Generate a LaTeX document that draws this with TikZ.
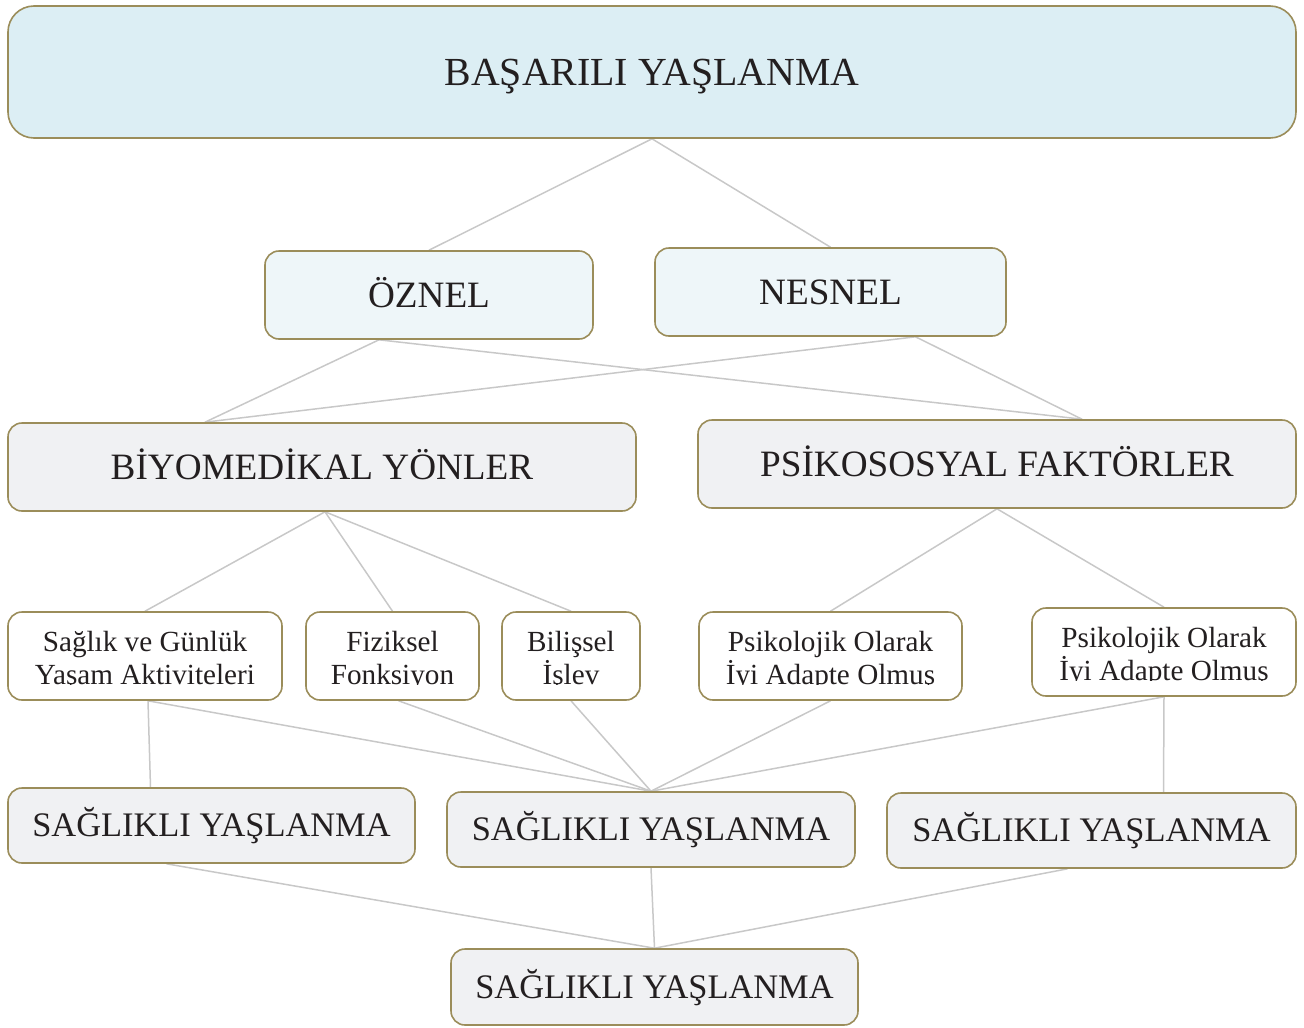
\documentclass[tikz,border=0pt]{standalone}
\usepackage{fontspec}
\setmainfont{Liberation Serif}
\usetikzlibrary{backgrounds}
\definecolor{bord}{RGB}{155,141,90}
\definecolor{txt}{RGB}{35,31,32}
\definecolor{topfill}{RGB}{220,238,244}
\definecolor{bluefill}{RGB}{238,246,249}
\definecolor{grayfill}{RGB}{240,241,243}
\definecolor{conn}{RGB}{200,200,200}
\begin{document}
\begin{tikzpicture}[x=1pt,y=-1pt,
  box/.style={draw=bord, line width=1.6pt, rounded corners=14pt, inner sep=0pt, text=txt},
  titlebox/.style={box, fill=topfill, rounded corners=26pt, font=\fontsize{39.8}{47}\selectfont, text height=26.3pt, text depth=0pt},
  midbox/.style={box, font=\fontsize{37.2}{44}\selectfont, text height=24.6pt, text depth=0pt, minimum height=88pt},
  healthbox/.style={box, fill=grayfill, font=\fontsize{34.4}{41}\selectfont, text height=22.8pt, text depth=0pt, minimum height=75pt},
  smallbox/.style={box, fill=white, minimum height=88pt},
  stext/.style={text=txt, inner sep=0pt, anchor=base, font=\fontsize{29.2}{33}\selectfont},
  link/.style={draw=conn, line width=1.5pt}]
\useasboundingbox (0,0) rectangle (1304,1028);

\node[titlebox, minimum width=1288pt, minimum height=132pt] (top) at (652,72) {BAŞARILI YAŞLANMA};

\node[midbox, fill=bluefill, minimum width=328pt] (oz) at (429,295) {ÖZNEL};
\node[midbox, fill=bluefill, minimum width=351pt] (ns) at (830.5,292) {NESNEL};

\node[midbox, fill=grayfill, minimum width=628pt] (bio) at (322,467) {BİYOMEDİKAL YÖNLER};
\node[midbox, fill=grayfill, minimum width=598pt] (psi) at (997,464) {PSİKOSOSYAL FAKTÖRLER};

\node[smallbox, minimum width=274pt] (sg) at (145,656) {};
\node[smallbox, minimum width=173pt] (fz) at (392.5,656) {};
\node[smallbox, minimum width=138pt] (bl) at (571,656) {};
\node[smallbox, minimum width=263pt] (pa) at (830.5,656) {};
\node[smallbox, minimum width=264pt] (pb) at (1164,652) {};

\begin{scope}
  \clip ([yshift=16.7pt]sg.south west) rectangle (sg.north east);
  \node[stext] (sgA) at ([yshift=-40pt]sg.north) {Sağlık ve Günlük};
  \node[stext] (sgB) at ([yshift=-73pt]sg.north) {Yaşam Aktiviteleri};
\end{scope}
\begin{scope}
  \clip ([yshift=16.7pt]fz.south west) rectangle (fz.north east);
  \node[stext] (fzA) at ([yshift=-40pt]fz.north) {Fiziksel};
  \node[stext] (fzB) at ([yshift=-73pt]fz.north) {Fonksiyon};
\end{scope}
\begin{scope}
  \clip ([yshift=16.7pt]bl.south west) rectangle (bl.north east);
  \node[stext] (blA) at ([yshift=-40pt]bl.north) {Bilişsel};
  \node[stext] (blB) at ([yshift=-73pt]bl.north) {İşlev};
\end{scope}
\begin{scope}
  \clip ([yshift=16.7pt]pa.south west) rectangle (pa.north east);
  \node[stext] (paA) at ([yshift=-40pt]pa.north) {Psikolojik Olarak};
  \node[stext] (paB) at ([yshift=-73pt]pa.north) {İyi Adapte Olmuş};
\end{scope}
\begin{scope}
  \clip ([yshift=16.7pt]pb.south west) rectangle (pb.north east);
  \node[stext] (pbA) at ([yshift=-40pt]pb.north) {Psikolojik Olarak};
  \node[stext] (pbB) at ([yshift=-73pt]pb.north) {İyi Adapte Olmuş};
\end{scope}

\node[healthbox, minimum width=407pt] (s1) at (211.5,825.5) {SAĞLIKLI YAŞLANMA};
\node[healthbox, minimum width=408pt] (s2) at (651,829.5) {SAĞLIKLI YAŞLANMA};
\node[healthbox, minimum width=409pt] (s3) at (1091.5,830.5) {SAĞLIKLI YAŞLANMA};
\node[healthbox, minimum width=407pt, minimum height=76pt] (bt) at (654.5,987) {SAĞLIKLI YAŞLANMA};

\begin{scope}[on background layer]
  \draw[link] (top.south) -- (oz.north);
  \draw[link] (top.south) -- (ns.north);
  \draw[link] ([xshift=-50pt]oz.south) -- ([xshift=-117pt]bio.north);
  \draw[link] ([xshift=-50pt]oz.south) -- ([xshift=85pt]psi.north);
  \draw[link] ([xshift=85pt]ns.south) -- ([xshift=-117pt]bio.north);
  \draw[link] ([xshift=85pt]ns.south) -- ([xshift=85pt]psi.north);
  \draw[link] ([xshift=3pt]bio.south) -- (sg.north);
  \draw[link] ([xshift=3pt]bio.south) -- (fz.north);
  \draw[link] ([xshift=3pt]bio.south) -- (bl.north);
  \draw[link] (psi.south) -- (pa.north);
  \draw[link] (psi.south) -- (pb.north);
  \draw[link] ([xshift=3pt]sg.south) -- ([xshift=-61pt]s1.north);
  \draw[link] ([xshift=3pt]sg.south) -- (s2.north);
  \draw[link] ([xshift=6pt]fz.south) -- (s2.north);
  \draw[link] (bl.south) -- (s2.north);
  \draw[link] (pa.south) -- (s2.north);
  \draw[link] (pb.south) -- (s2.north);
  \draw[link] (pb.south) -- ([xshift=72pt]s3.north);
  \draw[link] ([xshift=-45pt]s1.south) -- (bt.north);
  \draw[link] (s2.south) -- (bt.north);
  \draw[link] ([xshift=-24pt]s3.south) -- (bt.north);
\end{scope}
\end{tikzpicture}
\end{document}
